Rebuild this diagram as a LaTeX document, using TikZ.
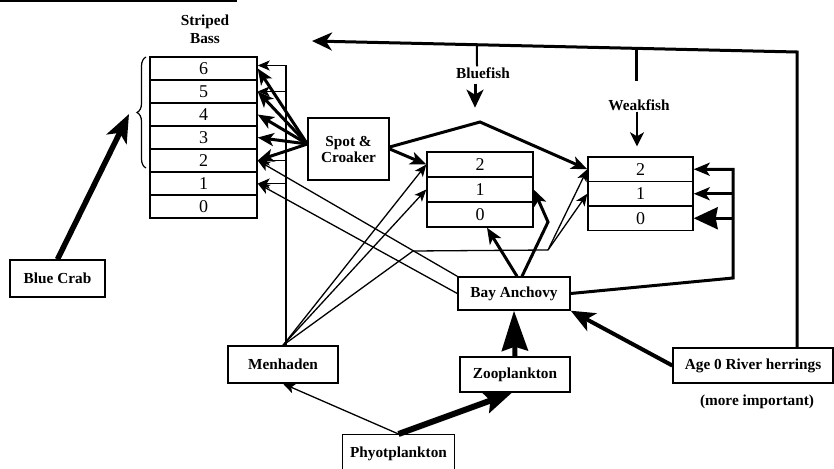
\documentclass[tikz,border=0pt]{standalone}
\usepackage{fontspec}
\setmainfont{Liberation Serif}
\usetikzlibrary{arrows.meta,decorations.pathreplacing,calc}
\begin{document}
\begin{tikzpicture}[x=1pt,y=-1pt,
  box/.style={draw,line width=1.4pt,inner sep=2pt,font=\bfseries\fontsize{15.3}{16}\selectfont},
  agerow/.style={draw,line width=1.4pt,inner sep=0pt,font=\fontsize{18}{18}\selectfont},
  lbl/.style={font=\bfseries\fontsize{15.3}{18}\selectfont,align=center,inner sep=1pt},
  thinarr/.style={line width=1.3pt,-{Stealth[length=12pt,width=10pt,inset=3pt]}},
  thickarr/.style={line width=3pt,-{Stealth[length=16pt,width=13pt,inset=4pt]}},
  heavyarr/.style={line width=5.5pt,-{Stealth[length=28pt,width=22pt,inset=7pt]}},
]
\useasboundingbox (0,0) rectangle (834,468);
\fill[white] (0,0) rectangle (834,468);
\draw[line width=2pt] (0,1) -- (237,1);

% Striped bass table
\node[lbl] (sblbl) at (205,29) {Striped\\Bass};
\node[agerow,minimum width=107pt,minimum height=23pt] (sb6) at (203.5,68.5) {6};
\node[agerow,minimum width=107pt,minimum height=23pt] (sb5) at (203.5,91.5) {5};
\node[agerow,minimum width=107pt,minimum height=23pt] (sb4) at (203.5,114.5) {4};
\node[agerow,minimum width=107pt,minimum height=23pt] (sb3) at (203.5,137.5) {3};
\node[agerow,minimum width=107pt,minimum height=23pt] (sb2) at (203.5,160.5) {2};
\node[agerow,minimum width=107pt,minimum height=23pt] (sb1) at (203.5,183.5) {1};
\node[agerow,minimum width=107pt,minimum height=23pt] (sb0) at (203.5,206.5) {0};
\draw[line width=1.2pt,decorate,decoration={brace,amplitude=9pt}] (146,168) -- (146,57);
\coordinate (bracetip) at (129,114);

% Bluefish table
\node[lbl] (bflbl) at (483,73) {Bluefish};
\node[agerow,minimum width=106pt,minimum height=25pt] (bf2) at (480,164.5) {2};
\node[agerow,minimum width=106pt,minimum height=25pt] (bf1) at (480,189.5) {1};
\node[agerow,minimum width=106pt,minimum height=25pt] (bf0) at (480,214.5) {0};

% Weakfish table
\node[lbl] (wflbl) at (639,105) {Weakfish};
\node[agerow,minimum width=105pt,minimum height=24.5pt] (wf2) at (640.5,169.25) {2};
\node[agerow,minimum width=105pt,minimum height=24.5pt] (wf1) at (640.5,193.75) {1};
\node[agerow,minimum width=105pt,minimum height=24.5pt] (wf0) at (640.5,218.25) {0};

% Other boxes
\node[box,minimum width=95pt,minimum height=37pt] (crab) at (57.5,278.5) {Blue Crab};
\node[box,align=center,minimum width=81pt,minimum height=62pt] (sc) at (348.5,149) {Spot \&\\Croaker};
\node[box,minimum width=110pt,minimum height=37pt] (men) at (283,364.5) {Menhaden};
\node[box,minimum width=112pt,minimum height=33pt] (ba) at (514,293.5) {Bay Anchovy};
\node[box,minimum width=110pt,minimum height=35pt] (zoo) at (515,374.5) {Zooplankton};
\node[box,minimum width=112pt,minimum height=38pt,anchor=north] (phy) at (398.5,434) {Phyotplankton};
\node[box,minimum width=160pt,minimum height=35pt] (age) at (753,365.5) {Age 0 River herrings};
\node[lbl] (note) at (757,402) {(more important)};

% Coordinates
\coordinate (topR) at (797,52);
\coordinate (topL) at (312,41);
\coordinate (peak) at (480,122);
\coordinate (mb1) at (413,251);
\coordinate (mb2) at (548,250);
\coordinate (bfk) at (548,222);
\coordinate (wbus) at (733,278);
\coordinate (mv) at ([xshift=3pt]men.north);

% River herrings to top predators
\draw[line width=3pt,-{Stealth[length=20pt,width=18pt,inset=6pt]}] (age.north -| topR) -- (topR) -- (topL);
\draw[line width=2pt] ($(topL)!0.34!(topR)$) -- (bflbl.north -| 477,0);
\draw[line width=3pt] ($(topL)!0.67!(topR)$) -- ++(0,33);
\draw[line width=3pt,-{Stealth[length=18pt,width=17pt,inset=5pt]}] ([xshift=-8pt,yshift=-4pt]bflbl.south) -- ++(0,24);
\draw[line width=2.5pt,-{Stealth[length=14pt,width=14pt,inset=4pt]}] ([xshift=-2pt]wflbl.south) -- ([xshift=-3.5pt,yshift=10pt]wf2.north);

% Blue crab
\draw[heavyarr] (crab.north) -- (bracetip);

% Spot & Croaker
\foreach \r in {6,5,4,3,2} \draw[thickarr] ([yshift=5pt]sc.west) -- (sb\r.east);
\draw[thickarr] (sc.east) -- (bf2.west);
\draw[thickarr] ([yshift=2pt]sc.east) -- (peak) -- (wf2.west);

% Menhaden
\draw[thinarr] (mv) |- ([yshift=3pt]sb6.east);
\draw[thinarr] (mv |- sb5.east) -- (sb5.east);
\draw[thinarr] (mv |- sb2.east) -- (sb2.east);
\draw[thinarr] (mv |- sb1.east) -- (sb1.east);
\draw[thinarr] (men.north) -- (bf2.west);
\draw[thinarr] (men.north) -- (bf1.west);
\draw[line width=1.3pt] (men.north) -- (mb1) -- (mb2);
\draw[thinarr] (mb2) -- (wf2.west);
\draw[thinarr] (mb2) -- (wf1.west);

% Bay anchovy
\draw[thinarr] (ba.north west) -- (sb2.east);
\draw[thinarr] (ba.west) -- (sb1.east);
\draw[thickarr] ([xshift=3pt]ba.north) -- ([xshift=7pt]bf0.south);
\draw[thickarr] ([xshift=8pt]ba.north) -- (bfk) -- (bf1.east);
\draw[thickarr] (ba.east) -- (wbus) |- (wf2.east);
\draw[thickarr] (wbus |- wf1.east) -- (wf1.east);
\draw[line width=3pt,-{Stealth[length=24pt,width=22pt,inset=2pt]}] (wbus |- wf0.east) -- (wf0.east);

% Plankton and herrings
\draw[line width=5pt,-{Stealth[length=40pt,width=26pt,inset=4pt]}] (zoo.north) -- (ba.south);
\draw[line width=6pt,-{Stealth[length=28pt,width=22pt,inset=5pt]}] (phy.north) -- ([xshift=-3pt]zoo.south);
\draw[thinarr] (phy.north) -- (men.south);
\draw[line width=4pt,-{Stealth[length=24pt,width=20pt,inset=6pt]}] (age.west) -- (ba.south east);
\end{tikzpicture}
\end{document}
